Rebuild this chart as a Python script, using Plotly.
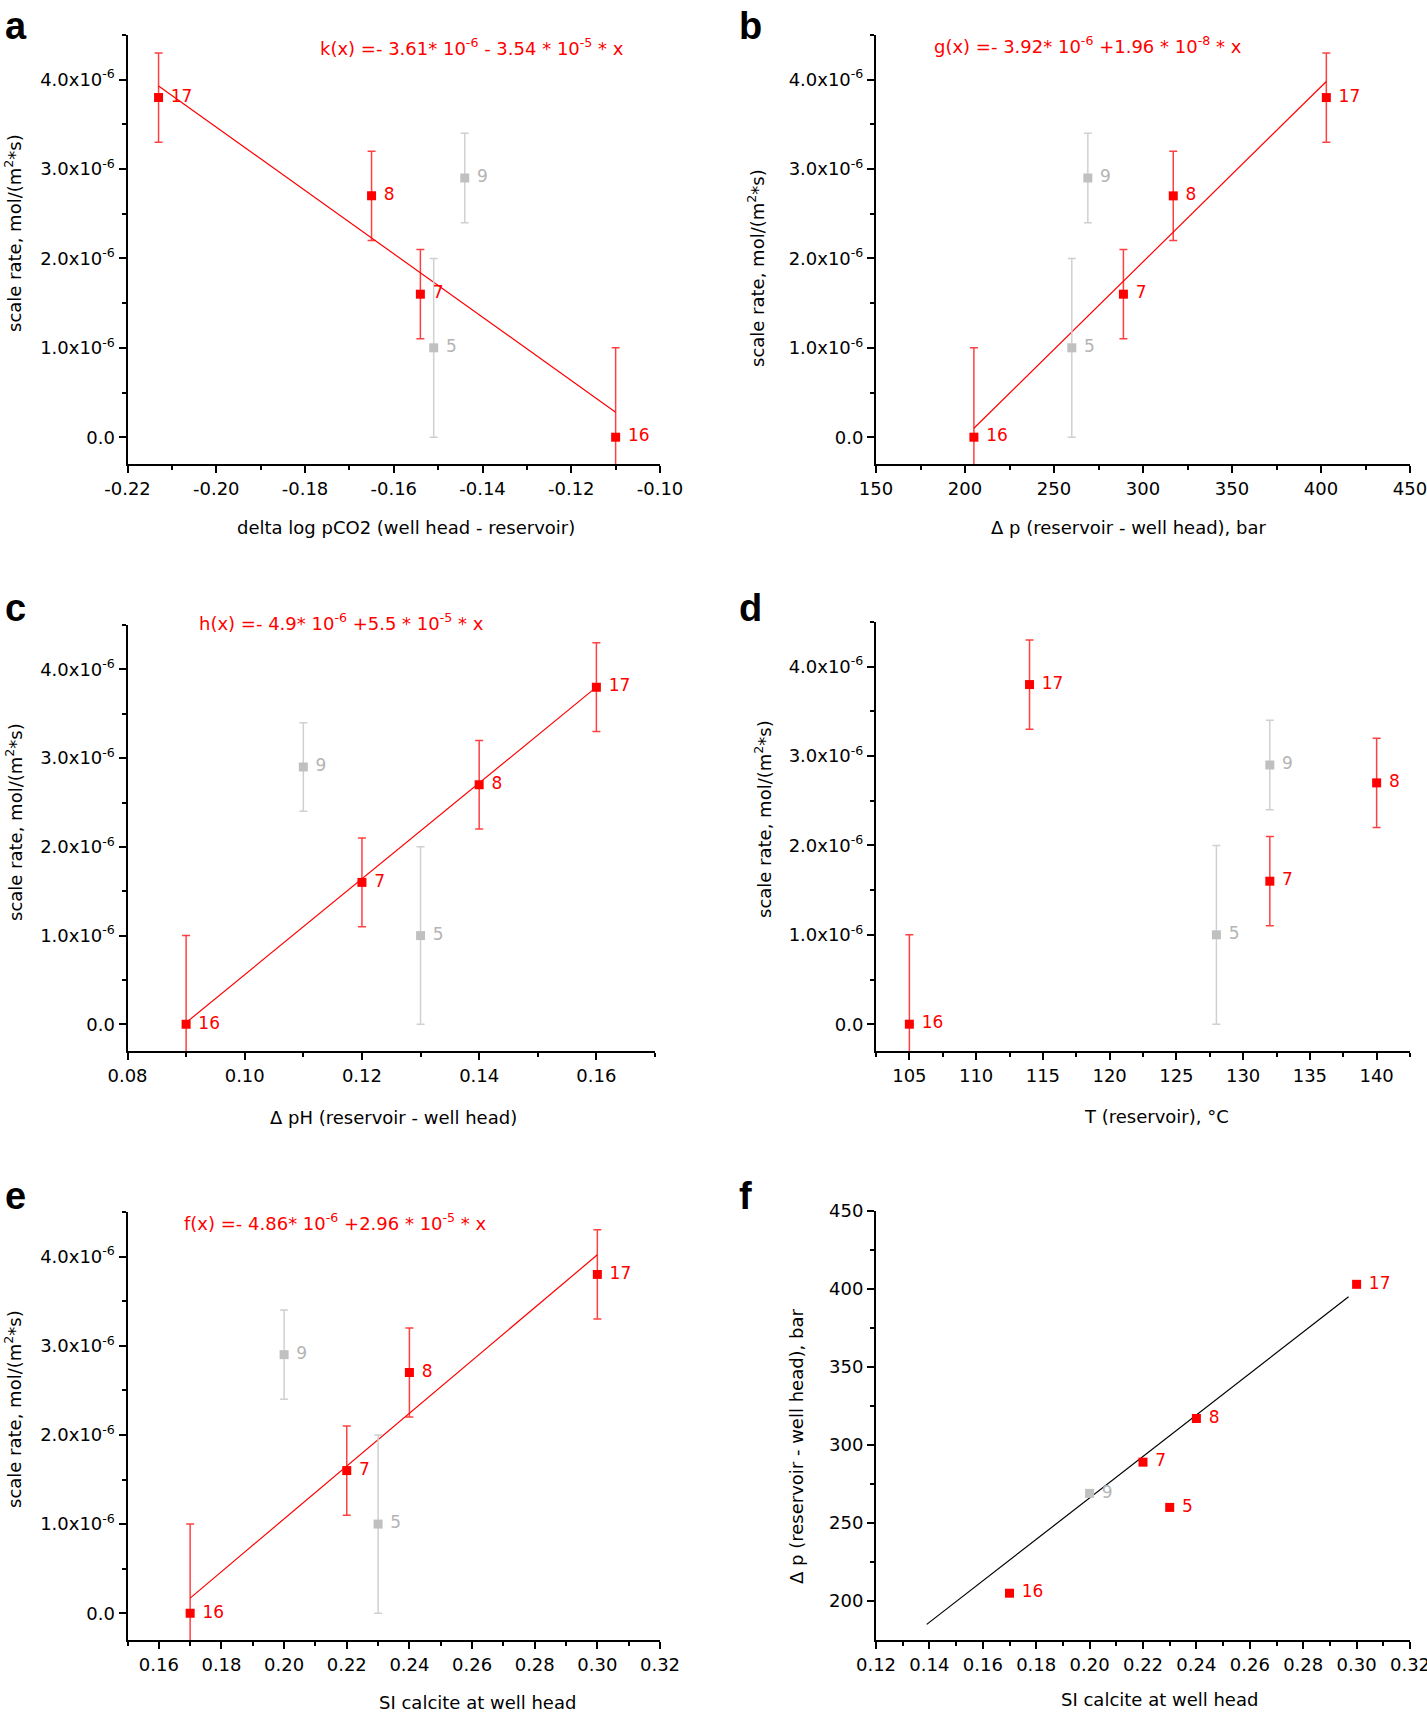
import plotly.graph_objects as go

# sample points (well ids) and measured values
point_ids = ["17", "8", "9", "7", "5", "16"]
scale_rate = [3.8e-6, 2.7e-6, 2.9e-6, 1.6e-6, 1.0e-6, 0.0]
rate_err = [0.5e-6, 0.5e-6, 0.5e-6, 0.5e-6, 1.0e-6, 1.0e-6]
delta_log_pco2 = [-0.213, -0.165, -0.144, -0.154, -0.151, -0.110]
delta_p = [403, 317, 269, 289, 260, 205]
delta_ph = [0.16, 0.14, 0.11, 0.12, 0.13, 0.09]
t_reservoir = [114, 140, 132, 132, 128, 105]
si_calcite = [0.30, 0.24, 0.20, 0.22, 0.23, 0.17]

grey_rate = ["9", "5"]   # not used for the fits in a-e
grey_f = ["9"]

# fitted lines (end points)
fit_a_x = [-0.213, -0.110]
fit_a_y = [3.93e-6, 0.28e-6]
fit_b_x = [205, 403]
fit_b_y = [0.10e-6, 3.98e-6]
fit_c_x = [0.09, 0.16]
fit_c_y = [0.02e-6, 3.80e-6]
fit_e_x = [0.17, 0.30]
fit_e_y = [0.17e-6, 4.02e-6]
fit_f_x = [0.139, 0.297]
fit_f_y = [185, 395]

eq_a = "k(x) =- 3.61* 10<sup>-6</sup> - 3.54 * 10<sup>-5</sup> * x"
eq_b = "g(x) =- 3.92* 10<sup>-6</sup> +1.96 * 10<sup>-8</sup> * x"
eq_c = "h(x) =- 4.9* 10<sup>-6</sup> +5.5 * 10<sup>-5</sup> * x"
eq_e = "f(x) =- 4.86* 10<sup>-6</sup> +2.96 * 10<sup>-5</sup> * x"

# tick labels
rate_ticks = [0, 1e-6, 2e-6, 3e-6, 4e-6]
rate_ticktext = ["0.0", "1.0x10<sup>-6</sup>", "2.0x10<sup>-6</sup>",
                 "3.0x10<sup>-6</sup>", "4.0x10<sup>-6</sup>"]
rate_minor = [0.5e-6, 1.5e-6, 2.5e-6, 3.5e-6, 4.5e-6]
pco2_ticks = [-0.22, -0.20, -0.18, -0.16, -0.14, -0.12, -0.10]
pco2_ticktext = ["-0.22", "-0.20", "-0.18", "-0.16", "-0.14", "-0.12", "-0.10"]
pco2_minor = [-0.21, -0.19, -0.17, -0.15, -0.13, -0.11]
dp_ticks = [150, 200, 250, 300, 350, 400, 450]
dp_minor = [175, 225, 275, 325, 375, 425]
ph_ticks = [0.08, 0.10, 0.12, 0.14, 0.16]
ph_minor = [0.09, 0.11, 0.13, 0.15, 0.17]
t_ticks = [105, 110, 115, 120, 125, 130, 135, 140]
t_minor = [102.5, 107.5, 112.5, 117.5, 122.5, 127.5, 132.5, 137.5, 142.5]
si_e_ticks = [0.16, 0.18, 0.20, 0.22, 0.24, 0.26, 0.28, 0.30, 0.32]
si_e_minor = [0.15, 0.17, 0.19, 0.21, 0.23, 0.25, 0.27, 0.29, 0.31]
si_f_ticks = [0.12, 0.14, 0.16, 0.18, 0.20, 0.22, 0.24, 0.26, 0.28, 0.30, 0.32]
si_f_minor = [0.13, 0.15, 0.17, 0.19, 0.21, 0.23, 0.25, 0.27, 0.29, 0.31]
dpf_ticks = [200, 250, 300, 350, 400, 450]
dpf_minor = [200, 225, 250, 275, 300, 325, 350, 375, 400, 425, 450]

W, H = 1427, 1712
FONT = "DejaVu Sans"
RED = "#ff0000"
GREY = "#c0c0c0"


def px(x):
    return x / W


def py(y):
    return 1 - y / H


fig = go.Figure()
annotations = []


def axis(n, letter, dom, rng, tickvals, ticktext, minor_vals, anchor, fmt=None):
    d = dict(
        domain=dom, range=rng, anchor=anchor, automargin=False,
        showline=True, linecolor="black", linewidth=2,
        ticks="outside", ticklen=7, tickwidth=2, tickcolor="black",
        showgrid=False, zeroline=False, ticklabeloverflow="allow",
        tickmode="array", tickvals=tickvals,
        tickfont=dict(family=FONT, size=18, color="black"),
        minor=dict(ticks="outside", ticklen=4, tickwidth=2, tickcolor="black",
                   tickmode="array", tickvals=minor_vals, showgrid=False),
    )
    if ticktext is not None:
        d["ticktext"] = ticktext
    if fmt:
        d["tickformat"] = fmt
    name = letter + "axis" + ("" if n == 1 else str(n))
    fig.update_layout({name: d})


def points(n, xs, ys, errs, grey_ids):
    xa = "x" if n == 1 else "x%d" % n
    ya = "y" if n == 1 else "y%d" % n
    for grey, mcol, ecol, tcol in [(True, GREY, "#d0d0d0", "#b4b4b4"),
                                   (False, RED, "rgba(255,0,0,0.75)", RED)]:
        idx = [i for i, p in enumerate(point_ids) if (p in grey_ids) == grey]
        px_ = [xs[i] for i in idx]
        py_ = [ys[i] for i in idx]
        tr = dict(x=px_, y=py_, mode="markers", xaxis=xa, yaxis=ya,
                  marker=dict(symbol="square", size=9, color=mcol),
                  showlegend=False, hoverinfo="skip")
        if errs is not None:
            tr["error_y"] = dict(type="data", array=[errs[i] for i in idx],
                                 color=ecol, thickness=1.5, width=4)
        fig.add_trace(go.Scatter(**tr))
        # labels, offset by an invisible marker
        fig.add_trace(go.Scatter(
            x=px_, y=py_, mode="markers+text", xaxis=xa, yaxis=ya,
            marker=dict(size=18, opacity=0),
            text=[point_ids[i] for i in idx], textposition="middle right",
            textfont=dict(family=FONT, size=17, color=tcol),
            cliponaxis=False, showlegend=False, hoverinfo="skip"))


def fit(n, xs, ys, color):
    xa = "x" if n == 1 else "x%d" % n
    ya = "y" if n == 1 else "y%d" % n
    fig.add_trace(go.Scatter(x=xs, y=ys, mode="lines", xaxis=xa, yaxis=ya,
                             line=dict(color=color, width=1.2),
                             showlegend=False, hoverinfo="skip"))


def label(text, x, y, size=18, color="black", angle=0, xanchor="center",
          bold=False, family=FONT):
    annotations.append(dict(
        text="<b>%s</b>" % text if bold else text,
        x=px(x), y=py(y), xref="paper", yref="paper",
        xanchor=xanchor, yanchor="middle", showarrow=False, textangle=angle,
        font=dict(family=family, size=size, color=color)))


rate_range = [-0.3e-6, 4.5e-6]
rate_title = "scale rate, mol/(m<sup>2</sup>*s)"

# panel a
axis(1, "x", [px(127.5), px(660)], [-0.22, -0.10], pco2_ticks, pco2_ticktext, pco2_minor, "y")
axis(1, "y", [py(464), py(35)], rate_range, rate_ticks, rate_ticktext, rate_minor, "x")
fit(1, fit_a_x, fit_a_y, RED)
points(1, delta_log_pco2, scale_rate, rate_err, grey_rate)

# panel b
axis(2, "x", [px(876), px(1410)], [150, 450], dp_ticks, None, dp_minor, "y2")
axis(2, "y", [py(464), py(35)], rate_range, rate_ticks, rate_ticktext, rate_minor, "x2")
fit(2, fit_b_x, fit_b_y, RED)
points(2, delta_p, scale_rate, rate_err, grey_rate)

# panel c
axis(3, "x", [px(127.5), px(655)], [0.08, 0.17], ph_ticks, None, ph_minor, "y3", ".2f")
axis(3, "y", [py(1051), py(625)], rate_range, rate_ticks, rate_ticktext, rate_minor, "x3")
fit(3, fit_c_x, fit_c_y, RED)
points(3, delta_ph, scale_rate, rate_err, grey_rate)

# panel d
axis(4, "x", [px(876), px(1410)], [102.5, 142.5], t_ticks, None, t_minor, "y4")
axis(4, "y", [py(1051), py(622)], rate_range, rate_ticks, rate_ticktext, rate_minor, "x4")
points(4, t_reservoir, scale_rate, rate_err, grey_rate)

# panel e
axis(5, "x", [px(127.5), px(660)], [0.15, 0.32], si_e_ticks, None, si_e_minor, "y5", ".2f")
axis(5, "y", [py(1640), py(1212)], rate_range, rate_ticks, rate_ticktext, rate_minor, "x5")
fit(5, fit_e_x, fit_e_y, RED)
points(5, si_calcite, scale_rate, rate_err, grey_rate)

# panel f
axis(6, "x", [px(876), px(1410)], [0.12, 0.32], si_f_ticks, None, si_f_minor, "y6", ".2f")
axis(6, "y", [py(1640), py(1211)], [175, 450], dpf_ticks, None, dpf_minor, "x6")
fit(6, fit_f_x, fit_f_y, "black")
points(6, si_calcite, delta_p, None, grey_f)

# equations
label(eq_a, 318, 47, color=RED, xanchor="left")
label(eq_b, 932, 45, color=RED, xanchor="left")
label(eq_c, 197, 622, color=RED, xanchor="left")
label(eq_e, 182, 1222, color=RED, xanchor="left")

# axis titles
label("delta log pCO2 (well head - reservoir)", 406, 528)
label("Δ p (reservoir - well head), bar", 1129, 528)
label("Δ pH (reservoir - well head)", 393, 1117)
label("T (reservoir), °C", 1156, 1116)
label("SI calcite at well head", 477, 1702)
label("SI calcite at well head", 1159, 1699)
label(rate_title, 13, 233, angle=-90)
label(rate_title, 756, 268, angle=-90)
label(rate_title, 14, 822, angle=-90)
label(rate_title, 763, 819, angle=-90)
label(rate_title, 13, 1409, angle=-90)
label("Δ p (reservoir - well head), bar", 796, 1446, angle=-90)

# panel letters
for t, x, y in [("a", 3, 26), ("b", 737, 26), ("c", 3, 608),
                ("d", 737, 608), ("e", 3, 1196), ("f", 737, 1196)]:
    label(t, x, y, size=38, xanchor="left", bold=True, family="Liberation Sans")

fig.update_layout(width=W, height=H, margin=dict(l=0, r=0, t=0, b=0, autoexpand=False),
                  paper_bgcolor="white", plot_bgcolor="white",
                  showlegend=False, annotations=annotations)

fig.write_html("out.html", config={"displayModeBar": False},
               post_script="document.body.style.margin='0';")
